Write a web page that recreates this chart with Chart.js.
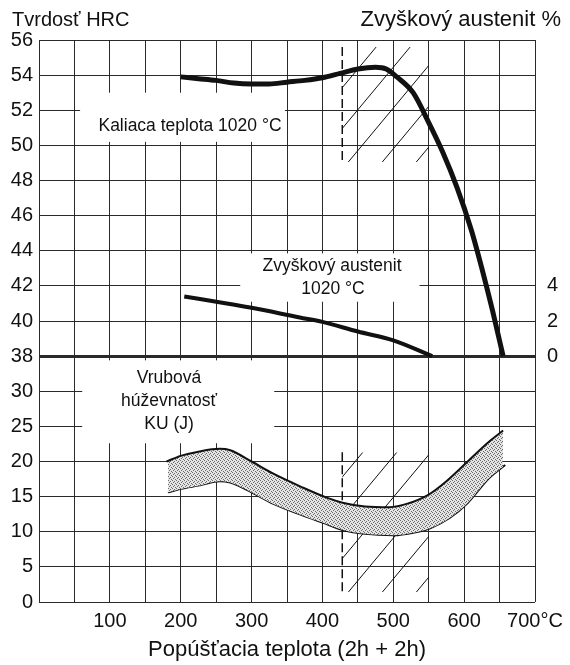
<!DOCTYPE html>
<html>
<head>
<meta charset="utf-8">
<script src="https://cdn.jsdelivr.net/npm/chart.js@4.4.1/dist/chart.umd.min.js"></script>
<style>html,body{margin:0;padding:0;background:#fff}canvas{display:block}</style>
</head>
<body>
<canvas id="chart" width="570" height="665"></canvas>
<script>
// tempering temperature (°C) -> hardness HRC
var hardTemp = [200,225,250,275,300,325,350,375,400,425,450,475,490,505,528,550,570,590,610,625,640,655];
var hardHRC  = [53.9,53.8,53.7,53.55,53.5,53.5,53.6,53.7,53.85,54.1,54.35,54.45,54.35,53.9,53.0,51.3,49.6,47.6,45.2,43.0,40.6,38.0];

// residual austenite %
var austTemp = [205,265,300,368,400,450,500,555];
var austPct  = [3.4,3.0,2.75,2.2,1.95,1.4,0.9,0];

// impact toughness KU (J), upper and lower edge of band
var kuTempHi = [180,200,225,255,270,300,330,370,405,430,460,495,520,550,575,605,635,655];
var kuHi     = [20.0,20.8,21.4,21.8,21.6,20.0,18.3,16.4,14.9,14.1,13.6,13.5,14.0,15.3,17.2,20.0,22.8,24.4];
var kuTempLo = [182,200,227,255,270,300,330,370,400,430,460,500,530,552,580,605,635,658];
var kuLo     = [15.6,16.1,16.6,17.2,17.0,15.6,14.0,12.4,11.3,10.2,9.7,9.5,9.9,10.5,12.0,14.1,17.6,19.5];

// tick labels
var xTicks = [100,200,300,400,500,600,700];
var xUnit = '°C';
var hrcTicks = [38,40,42,44,46,48,50,52,54,56];
var kuTicks = [0,5,10,15,20,25,30];
var austTicks = [0,2,4];
var leftLabels = kuTicks.concat(hrcTicks);

var FONT = '"Liberation Sans", Arial, Helvetica, sans-serif';
var INK = '#111';
var GRID = '#2a2a2a';

function pts(xs, ys) {
  return xs.map(function (x, i) { return {x: x, y: ys[i]}; });
}

// stipple pattern for the toughness band
var pc = document.createElement('canvas');
pc.width = 4; pc.height = 4;
var pctx = pc.getContext('2d');
pctx.fillStyle = '#e4e4e4'; pctx.fillRect(0, 0, 4, 4);
pctx.fillStyle = '#6a6a6a';
[[0,0],[2,1],[1,2],[3,3]].forEach(function (d) { pctx.fillRect(d[0], d[1], 1, 1); });
var stipple = pctx.createPattern(pc, 'repeat');

var decor = {
  id: 'decor',
  beforeDatasetsDraw: function (chart) {
    var ctx = chart.ctx, sx = chart.scales.x, sh = chart.scales.yH, sk = chart.scales.yK;
    ctx.save();
    // white label boxes over the grid
    ctx.fillStyle = '#fff';
    function box(x0, x1, a, b, s) {
      var px0 = sx.getPixelForValue(x0), px1 = sx.getPixelForValue(x1);
      var py0 = s.getPixelForValue(a), py1 = s.getPixelForValue(b);
      ctx.fillRect(px0, py0, px1 - px0, py1 - py0);
    }
    box(58, 347, 53.0, 50.2, sh);
    box(284, 537, 43.85, 41.1, sh);
    box(61, 332, 34.4, 22.6, sk);

    // hatched tempering range
    function hatch(x0, x1, a, b, s) {
      var l = sx.getPixelForValue(x0), r = sx.getPixelForValue(x1);
      var t = s.getPixelForValue(a), bt = s.getPixelForValue(b);
      ctx.save();
      ctx.beginPath(); ctx.rect(l, t, r - l, bt - t); ctx.clip();
      ctx.strokeStyle = INK; ctx.lineWidth = 1;
      var slope = 1.2, gap = 34;
      for (var k = -10; k < 20; k++) {
        var x = l + 6 + k * gap;
        ctx.beginPath();
        ctx.moveTo(x, bt);
        ctx.lineTo(x + (bt - t) / slope, t);
        ctx.stroke();
      }
      ctx.restore();
      ctx.beginPath();
      ctx.setLineDash([9, 4]);
      ctx.lineWidth = 1.5;
      ctx.strokeStyle = INK;
      ctx.moveTo(l, t); ctx.lineTo(l, bt);
      ctx.stroke();
      ctx.setLineDash([]);
    }
    hatch(428, 550, 55.6, 49.05, sh);
    hatch(428, 550, 21.3, 1.4, sk);
    ctx.restore();
  },
  afterDraw: function (chart) {
    var ctx = chart.ctx;
    ctx.save();
    ctx.fillStyle = INK;
    ctx.textBaseline = 'middle';
    ctx.font = '20px ' + FONT;
    ctx.textAlign = 'left';
    ctx.fillText('Tvrdosť HRC', 12, 20);
    ctx.font = '22px ' + FONT;
    ctx.textAlign = 'right';
    ctx.fillText('Zvyškový austenit %', 561, 20);
    ctx.font = '17.5px ' + FONT;
    ctx.textAlign = 'center';
    ctx.fillText('Kaliaca teplota 1020 °C', 190, 126);
    ctx.fillText('Zvyškový austenit', 332, 266);
    ctx.fillText('1020 °C', 333, 289);
    ctx.fillText('Vrubová', 169, 378);
    ctx.fillText('húževnatosť', 169, 401);
    ctx.fillText('KU (J)', 169, 424);
    ctx.restore();
  }
};

new Chart(document.getElementById('chart').getContext('2d'), {
  type: 'line',
  data: {
    datasets: [
      {
        label: 'Tvrdosť HRC',
        data: pts(hardTemp, hardHRC),
        yAxisID: 'yH',
        borderColor: INK,
        borderWidth: 5,
        pointRadius: 0,
        cubicInterpolationMode: 'monotone',
        fill: false
      },
      {
        label: 'Zvyškový austenit',
        data: pts(austTemp, austPct),
        yAxisID: 'yA',
        borderColor: INK,
        borderWidth: 4,
        pointRadius: 0,
        cubicInterpolationMode: 'monotone',
        fill: false
      },
      {
        label: 'KU max',
        data: pts(kuTempHi, kuHi),
        yAxisID: 'yK',
        borderColor: INK,
        borderWidth: 2,
        pointRadius: 0,
        cubicInterpolationMode: 'monotone',
        backgroundColor: stipple,
        fill: '+1'
      },
      {
        label: 'KU min',
        data: pts(kuTempLo, kuLo),
        yAxisID: 'yK',
        borderColor: INK,
        borderWidth: 2,
        pointRadius: 0,
        cubicInterpolationMode: 'monotone',
        fill: false
      }
    ]
  },
  options: {
    responsive: false,
    animation: false,
    layout: { padding: { top: 40, left: 0, right: 0, bottom: 0 } },
    plugins: {
      legend: { display: false },
      tooltip: { enabled: false }
    },
    scales: {
      x: {
        type: 'linear',
        min: 0,
        max: 700,
        afterFit: function (s) { s.height = 63; },
        ticks: {
          stepSize: 50,
          autoSkip: false,
          maxRotation: 0,
          padding: 7,
          color: INK,
          font: { family: FONT, size: 20 },
          callback: function (v) {
            if (xTicks.indexOf(v) < 0) return '';
            return v === 700 ? v + xUnit : String(v);
          }
        },
        grid: { color: GRID, lineWidth: 1, drawTicks: false },
        border: { display: false },
        title: {
          display: true,
          text: 'Popúšťacia teplota (2h + 2h)',
          color: INK,
          font: { family: FONT, size: 22 },
          padding: { top: 0, bottom: 2 }
        }
      },
      yH: {
        position: 'left',
        min: 24,
        max: 56,
        afterFit: function (s) { s.width = 39; },
        ticks: {
          stepSize: 2,
          padding: 6,
          color: INK,
          font: { family: FONT, size: 20 },
          callback: function (v, i) { return leftLabels[i]; }
        },
        grid: {
          color: GRID,
          drawTicks: false,
          lineWidth: function (c) { return c.tick && c.tick.value === 38 ? 3 : 1; }
        },
        border: { display: false }
      },
      yK: {
        display: false,
        min: 0,
        max: 80
      },
      yA: {
        position: 'right',
        min: -14,
        max: 18,
        afterFit: function (s) { s.width = 35; },
        afterBuildTicks: function (s) {
          s.ticks = austTicks.map(function (v) { return {value: v}; });
        },
        ticks: {
          padding: 12,
          color: INK,
          font: { family: FONT, size: 20 }
        },
        grid: { display: false, drawTicks: false },
        border: { display: false }
      }
    }
  },
  plugins: [decor]
});
</script>
</body>
</html>
